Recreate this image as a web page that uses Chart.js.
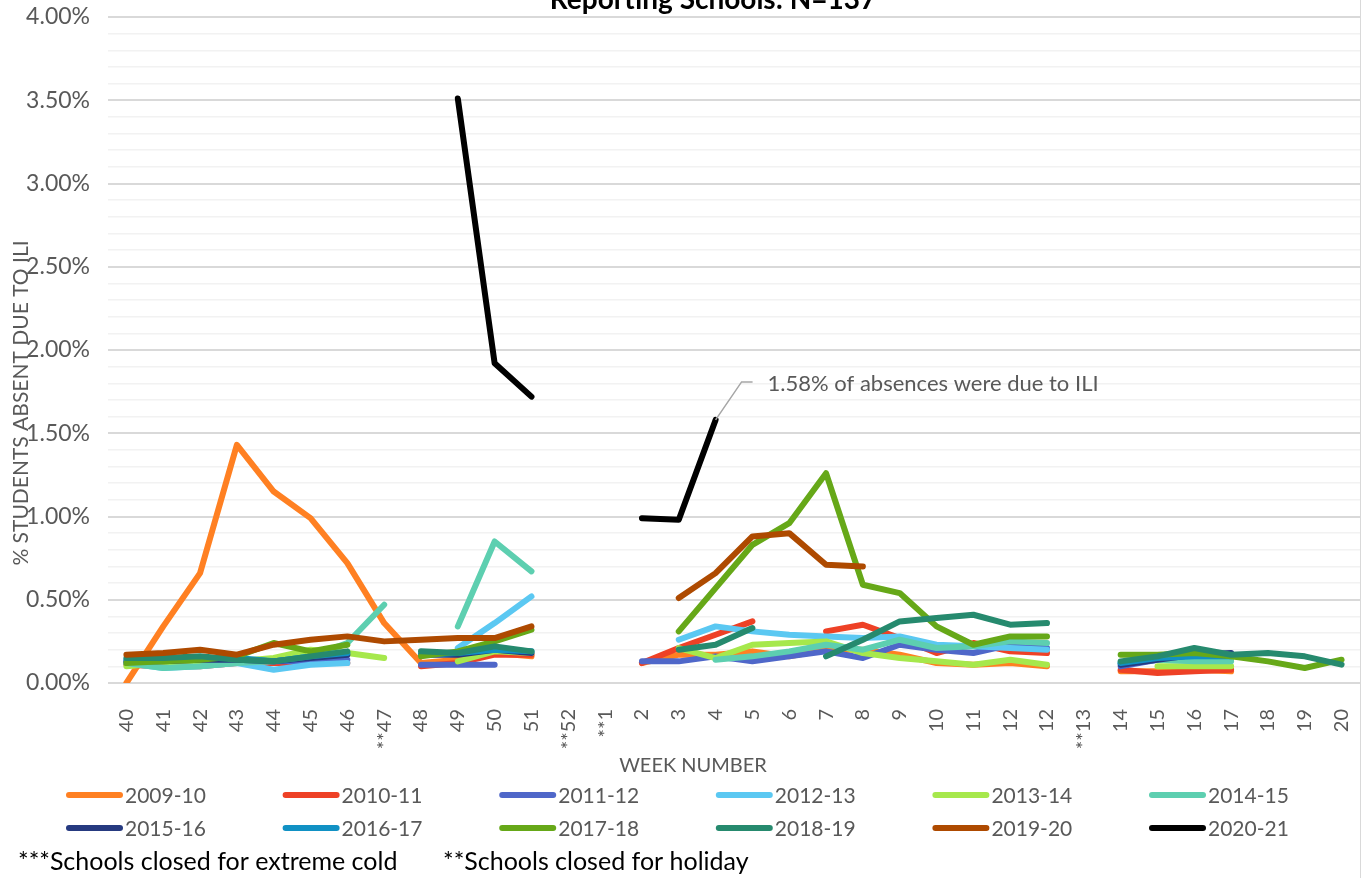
<!DOCTYPE html>
<html>
<head>
<meta charset="utf-8">
<script src="https://cdn.jsdelivr.net/npm/chart.js@4.4.1/dist/chart.umd.min.js"></script>
<style>
  html, body { margin: 0; padding: 0; background: #fff; }
  canvas { display: block; }
</style>
</head>
<body>
<canvas id="iliChart" width="1362" height="878"></canvas>
<script>
// semanas (el "12" repetido viene asi del original)
const weeks = ['40','41','42','43','44','45','46','**47', '48','49','50','51', '**52','**1',
  '2','3','4','5','6','7','8','9','10','11','12','12', '**13', '14','15','16','17','18','19','20'];

const seasons = ['2009-10','2010-11','2011-12','2012-13','2013-14','2014-15',
  '2015-16','2016-17','2017-18','2018-19','2019-20','2020-21'];
const colors = ['#FF8022','#EE4126','#4F67C9','#5BC8F2','#A6E84C','#5DCFB0',
  '#263A80','#1191C4','#66A818','#268A6E','#AE4A00','#000000'];

// % de alumnos ausentes por ILI
const s0910 = [0.00,0.34,0.66,1.43,1.15,0.99,0.72,0.36, 0.12,0.14,0.18,0.16, null,null,
  0.12,0.17,0.17,0.19,0.16,0.20,0.20,0.17,0.12,0.11,0.12,0.10, null, 0.07,0.07,0.08,0.07,null,null,null];
const s1011 = [0.11,0.10,0.10,0.12,0.12,0.12,0.12,null, 0.10,0.12,0.17,0.17, null,null,
  0.12,0.21,0.29,0.37,null,0.31,0.35,0.27,0.18,0.24,0.19,0.18, null, 0.08,0.06,0.07,0.08,null,null,null];
const s1112 = [0.12,0.11,0.12,0.13,0.13,0.13,0.14,null, 0.11,0.11,0.11,null, null,null,
  0.13,0.13,0.16,0.13,0.16,0.19,0.15,0.23,0.20,0.18,0.23,0.21, null, 0.10,0.14,0.17,0.17,null,null,null];
const s1213 = [0.12,0.09,0.10,0.12,0.08,0.11,0.12,null, null,0.21,0.36,0.52, null,null,
  null,0.26,0.34,0.31,0.29,0.28,0.27,0.28,0.23,0.22,0.21,0.20, null, 0.12,0.15,0.15,0.14,null,null,null];
const s1314 = [0.10,0.12,0.13,0.13,0.15,0.20,0.18,0.15, null,0.13,0.19,0.18, null,null,
  null,0.21,0.15,0.23,0.24,0.25,0.18,0.15,0.13,0.11,0.14,0.11, null, null,0.10,0.10,0.10,null,null,null];
const s1415 = [0.12,0.09,0.10,0.12,0.13,0.16,0.24,0.47, null,0.34,0.85,0.67, null,null,
  null,null,0.14,0.16,0.19,0.23,0.20,0.26,0.21,0.22,0.25,0.24, null, 0.12,0.14,0.13,0.13,null,null,null];
const s1516 = [0.13,0.13,0.14,0.14,0.13,0.15,0.17,null, 0.17,0.17,0.20,0.18, null,null,
  null,null,null,null,null,null,null,null,null,null,null,null, null, 0.11,0.14,0.17,0.18,null,null,null];
const s1617 = [0.14,0.14,0.15,0.15,0.13,0.16,0.18,null, 0.17,0.18,0.20,0.19, null,null,
  null,null,null,null,null,null,null,null,null,null,null,null, null, 0.12,0.15,0.16,0.16,null,null,null];
const s1718 = [0.12,0.13,0.14,0.16,0.24,0.19,0.23,null, 0.16,0.19,0.25,0.32, null,null,
  null,0.31,0.57,0.83,0.96,1.26,0.59,0.54,0.34,0.23,0.28,0.28, null, 0.17,0.17,0.18,0.16,0.13,0.09,0.14];
const s1819 = [0.15,0.15,0.16,0.14,0.13,0.16,0.19,null, 0.19,0.18,0.22,0.19, null,null,
  null,0.20,0.23,0.33,null,0.16,0.26,0.37,0.39,0.41,0.35,0.36, null, 0.13,0.16,0.21,0.17,0.18,0.16,0.11];
const s1920 = [0.17,0.18,0.20,0.17,0.23,0.26,0.28,0.25, 0.26,0.27,0.27,0.34, null,null,
  null,0.51,0.66,0.88,0.90,0.71,0.70,null,null,null,null,null, null, null,null,null,null,null,null,null];
const s2021 = [null,null,null,null,null,null,null,null, null,3.51,1.92,1.72, null,null,
  0.99,0.98,1.58,null,null,null,null,null,null,null,null,null, null, null,null,null,null,null,null,null];

const seriesValues = [s0910,s1011,s1112,s1213,s1314,s1415,s1516,s1617,s1718,s1819,s1920,s2021];

const FONT = 'Lato, "Noto Sans", sans-serif';
const GREY = '#595959';

// textos extra: titulo, titulos de ejes, leyenda, notas y la etiqueta del 1.58%
const extras = {
  id: 'extras',
  afterDraw(chart) {
    const ctx = chart.ctx;
    ctx.save();

    // titulo cortado arriba
    ctx.fillStyle = '#000';
    ctx.font = 'bold 28px ' + FONT;
    ctx.textAlign = 'center';
    ctx.textBaseline = 'alphabetic';
    ctx.fillText('Reporting Schools: N=137', 713, 9);

    // titulo eje y
    ctx.save();
    ctx.translate(28, 403);
    ctx.rotate(-Math.PI / 2);
    ctx.fillStyle = GREY;
    ctx.font = '21px ' + FONT;
    ctx.textBaseline = 'alphabetic';
    ctx.fillText('% STUDENTS ABSENT DUE TO ILI', 0, 0);
    ctx.restore();

    // titulo eje x
    ctx.fillStyle = GREY;
    ctx.font = '20px ' + FONT;
    ctx.textBaseline = 'middle';
    ctx.fillText('WEEK NUMBER', 693, 766);

    // leyenda 2 filas x 6 columnas
    ctx.textAlign = 'left';
    ctx.font = '21px ' + FONT;
    chart.data.datasets.forEach(function(ds, i) {
      const x = 66 + (i % 6) * 216.6;
      const y = 795 + Math.floor(i / 6) * 33;
      ctx.strokeStyle = ds.borderColor;
      ctx.lineWidth = 6;
      ctx.lineCap = 'round';
      ctx.beginPath();
      ctx.moveTo(x + 3, y);
      ctx.lineTo(x + 54, y);
      ctx.stroke();
      ctx.fillStyle = GREY;
      ctx.fillText(ds.label, x + 59, y + 1);
    });

    // notas al pie
    ctx.fillStyle = '#000';
    ctx.font = '25px ' + FONT;
    ctx.fillText('***Schools closed for extreme cold', 18, 862);
    ctx.fillText('**Schools closed for holiday', 443, 862);

    // etiqueta del ultimo punto 2020-21
    const pt = chart.getDatasetMeta(11).data[16];
    ctx.strokeStyle = '#A6A6A6';
    ctx.lineWidth = 1.5;
    ctx.lineCap = 'butt';
    ctx.beginPath();
    ctx.moveTo(pt.x, pt.y);
    ctx.lineTo(pt.x + 26, pt.y - 38);
    ctx.lineTo(pt.x + 37, pt.y - 38);
    ctx.stroke();
    ctx.fillStyle = GREY;
    ctx.font = '22px ' + FONT;
    ctx.fillText('1.58% of absences were due to ILI', pt.x + 52, pt.y - 36);

    // borde derecho
    ctx.strokeStyle = '#D9D9D9';
    ctx.lineWidth = 1;
    ctx.beginPath();
    ctx.moveTo(1360.5, 0);
    ctx.lineTo(1360.5, chart.height);
    ctx.stroke();

    ctx.restore();
  }
};

function isMajor(v) {
  return Math.round(v * 100) % 50 === 0;
}

const ctx = document.getElementById('iliChart').getContext('2d');
const iliChart = new Chart(ctx, {
  type: 'line',
  data: {
    labels: weeks,
    datasets: seasons.map(function(name, i) {
      return {
        label: name,
        data: seriesValues[i],
        borderColor: colors[i],
        backgroundColor: colors[i],
        borderWidth: 6,
        borderCapStyle: 'round',
        borderJoinStyle: 'round',
        pointRadius: 0,
        pointHoverRadius: 0,
        tension: 0,
        spanGaps: false,
        order: seasons.length - i // las ultimas temporadas encima
      };
    })
  },
  options: {
    responsive: false,
    animation: false,
    layout: { padding: { top: 17, right: 2, left: 0, bottom: 0 } },
    plugins: {
      legend: { display: false },
      title: { display: false },
      tooltip: { enabled: false }
    },
    scales: {
      x: {
        offset: true,
        grid: { display: false },
        border: { display: false },
        ticks: {
          autoSkip: false,
          minRotation: 90,
          maxRotation: 90,
          padding: 18,
          color: GREY,
          font: { family: FONT, size: 20 }
        },
        afterFit: function(scale) {
          scale.height = 878 - 683;
          scale.paddingLeft = 0;
          scale.paddingRight = 0;
        }
      },
      y: {
        min: 0,
        max: 4,
        border: { display: false },
        grid: {
          drawTicks: false,
          color: function(c) { return isMajor(c.tick.value) ? '#D9D9D9' : '#F2F2F2'; },
          lineWidth: function(c) { return isMajor(c.tick.value) ? 2 : 1.5; }
        },
        ticks: {
          stepSize: 0.1,
          autoSkip: false,
          padding: 18,
          color: GREY,
          font: { family: FONT, size: 23 },
          callback: function(v) { return isMajor(v) ? v.toFixed(2) + '%' : ''; }
        },
        afterFit: function(scale) {
          scale.width = 108;
          scale.paddingTop = 0;
          scale.paddingBottom = 0;
        }
      }
    }
  },
  plugins: [extras]
});
</script>
</body>
</html>
